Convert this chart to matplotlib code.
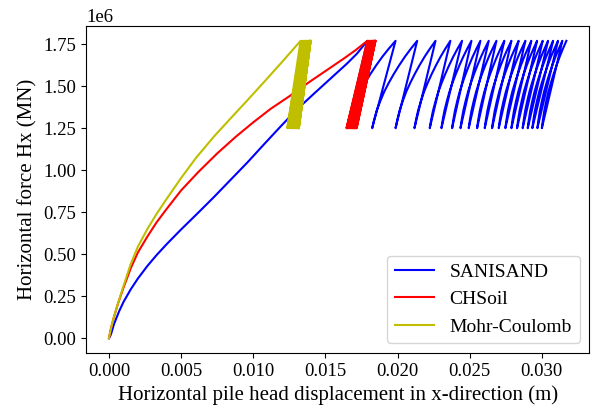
import matplotlib
matplotlib.use("Agg")
import matplotlib.pyplot as plt
import numpy as np

plt.rcParams['font.family'] = ['Liberation Serif', 'DejaVu Serif']

# load levels of the cyclic part (N)
h_max = 1.77e6
h_min = 1.25e6

# SANISAND - monotonic branch up to first peak
sanisand_mono_x = [0.0, 0.00008, 0.00016, 0.00024, 0.00035, 0.00046, 0.0007, 0.0010, 0.0015,
                   0.0020, 0.00266, 0.0033, 0.0040, 0.00497, 0.0061, 0.00727, 0.0084, 0.00958,
                   0.0107, 0.01189, 0.0130, 0.0142, 0.01535, 0.0165, 0.0172, 0.0179]
sanisand_mono_y = [0.0, 0.012e6, 0.03e6, 0.054e6, 0.085e6, 0.109e6, 0.16e6, 0.215e6, 0.29e6,
                   0.355e6, 0.43e6, 0.495e6, 0.56e6, 0.645e6, 0.74e6, 0.84e6, 0.94e6, 1.045e6,
                   1.15e6, 1.26e6, 1.36e6, 1.455e6, 1.545e6, 1.635e6, 1.695e6, 1.77e6]
# SANISAND - peaks and valleys of the load cycles
sanisand_peak_x = [0.01792, 0.01986, 0.02136, 0.02263, 0.02366, 0.02447, 0.02512, 0.02574,
                   0.02632, 0.02685, 0.02740, 0.02789, 0.02839, 0.02886, 0.02927, 0.02967,
                   0.03006, 0.03043, 0.03078, 0.03112, 0.03142, 0.03170]
sanisand_valley_x = [0.01651, 0.01824, 0.01986, 0.02117, 0.02223, 0.02304, 0.02378, 0.02436,
                     0.02493, 0.02551, 0.02604, 0.02655, 0.02701, 0.02747, 0.02789, 0.02828,
                     0.02867, 0.02902, 0.02934, 0.02969, 0.03000]
# shape of a reloading branch (fraction of dx, fraction of dH)
reload_xfrac = [0.0, 0.04, 0.1, 0.18, 0.27, 0.37, 0.48, 0.6, 0.73, 0.86, 1.0]
reload_yfrac = [0.0, 0.09, 0.2, 0.31, 0.42, 0.52, 0.62, 0.72, 0.82, 0.91, 1.0]

# CHSoil
chsoil_mono_x = [0.0, 0.0001, 0.0002, 0.00035, 0.0006, 0.0010, 0.0015, 0.0020, 0.00266,
                 0.0033, 0.0040, 0.005, 0.0062, 0.0075, 0.0088, 0.0100, 0.0112, 0.0125,
                 0.0138, 0.0150, 0.0162, 0.0171, 0.0179]
chsoil_mono_y = [0.0, 0.045e6, 0.08e6, 0.128e6, 0.2e6, 0.30e6, 0.415e6, 0.51e6, 0.605e6,
                 0.69e6, 0.77e6, 0.88e6, 0.99e6, 1.10e6, 1.20e6, 1.285e6, 1.365e6, 1.44e6,
                 1.52e6, 1.59e6, 1.66e6, 1.715e6, 1.77e6]
chsoil_peak_x = [0.01790, 0.01797, 0.01803, 0.01809, 0.01814, 0.01819, 0.01823, 0.01827,
                 0.01831, 0.01834, 0.01837, 0.01840, 0.01842, 0.01844, 0.01846, 0.01847]
chsoil_valley_x = [0.01646, 0.01653, 0.01660, 0.01666, 0.01672, 0.01678, 0.01683, 0.01688,
                   0.01693, 0.01697, 0.01701, 0.01705, 0.01709, 0.01712, 0.01716]

# Mohr-Coulomb
mc_mono_x = [0.0, 0.0001, 0.0002, 0.00035, 0.0006, 0.0010, 0.0015, 0.0020, 0.00266,
             0.0033, 0.0040, 0.00497, 0.0060, 0.00727, 0.0085, 0.00958, 0.0108, 0.0120,
             0.01328]
mc_mono_y = [0.0, 0.045e6, 0.08e6, 0.128e6, 0.2e6, 0.31e6, 0.44e6, 0.545e6, 0.65e6,
             0.74e6, 0.83e6, 0.95e6, 1.07e6, 1.2e6, 1.315e6, 1.415e6, 1.53e6, 1.645e6,
             1.77e6]
mc_peak_x = [0.01328, 0.01338, 0.01347, 0.01355, 0.01362, 0.01368, 0.01373, 0.01378,
             0.01382, 0.01386, 0.01389, 0.01392, 0.01394, 0.01396, 0.01397, 0.01398]
mc_valley_x = [0.01236, 0.01246, 0.01255, 0.01264, 0.01272, 0.01279, 0.01285, 0.01291,
               0.01296, 0.01301, 0.01305, 0.01309, 0.01312, 0.01314, 0.01316]


def cyclic_path(mono_x, mono_y, peaks, valleys, xfrac=None, yfrac=None):
    # monotonic branch, then unload to valley and reload to the next peak
    xs = list(mono_x)
    ys = list(mono_y)
    for i, v in enumerate(valleys):
        xs.append(v)
        ys.append(h_min)
        p_next = peaks[i + 1]
        if xfrac is None:
            xs.append(p_next)
            ys.append(h_max)
        else:
            for fx, fy in zip(xfrac[1:], yfrac[1:]):
                xs.append(v + fx * (p_next - v))
                ys.append(h_min + fy * (h_max - h_min))
    return np.array(xs), np.array(ys)


san_x, san_y = cyclic_path(sanisand_mono_x, sanisand_mono_y, sanisand_peak_x,
                           sanisand_valley_x, reload_xfrac, reload_yfrac)
chs_x, chs_y = cyclic_path(chsoil_mono_x, chsoil_mono_y, chsoil_peak_x, chsoil_valley_x)
mc_x, mc_y = cyclic_path(mc_mono_x, mc_mono_y, mc_peak_x, mc_valley_x)

fig = plt.figure(figsize=(5.94, 4.12), dpi=100)
ax = fig.add_axes([0.145, 0.143, 0.847, 0.794])

ax.plot(san_x, san_y, color='b', lw=1.5, label='SANISAND')
ax.plot(chs_x, chs_y, color='r', lw=1.5, label='CHSoil')
ax.plot(mc_x, mc_y, color='y', lw=1.5, label='Mohr-Coulomb')

ax.set_xlabel('Horizontal pile head displacement in x-direction (m)', fontsize=15)
ax.set_ylabel('Horizontal force Hx (MN)', fontsize=15)
ax.tick_params(labelsize=13.5)
ax.yaxis.get_offset_text().set_fontsize(13.5)
ax.legend(loc='lower right', fontsize=14)

fig.savefig('out.png', dpi=100)
